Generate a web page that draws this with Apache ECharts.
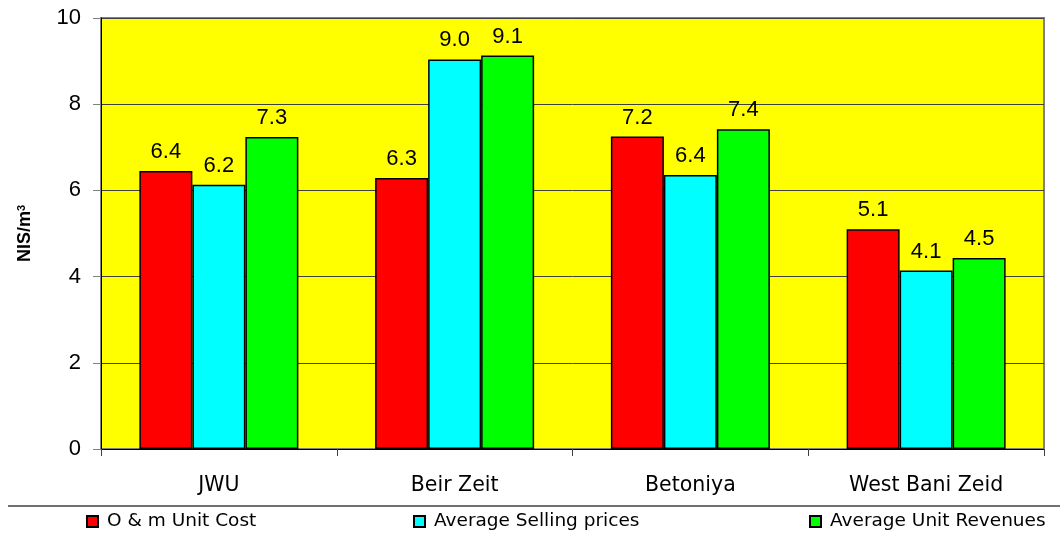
<!DOCTYPE html>
<html>
<head>
<meta charset="utf-8">
<script src="https://cdn.jsdelivr.net/npm/echarts@6/dist/echarts.min.js"></script>
<style>
  html, body { margin: 0; padding: 0; background: #fff; }
  #chart { width: 1061px; height: 540px; }
</style>
</head>
<body>
<div id="chart"></div>
<script>
// data
const sites = ['JWU', 'Beir Zeit', 'Betoniya', 'West Bani Zeid'];
const seriesNames = ['O & m Unit Cost', 'Average Selling prices', 'Average Unit Revenues'];

const omCost = [6.45, 6.29, 7.25, 5.1];
const sellPrice = [6.13, 9.04, 6.36, 4.14];
const unitRevenue = [7.24, 9.13, 7.42, 4.43];

// printed labels (as shown on the chart)
const omCostLabels = ['6.4', '6.3', '7.2', '5.1'];
const sellPriceLabels = ['6.2', '9.0', '6.4', '4.1'];
const unitRevenueLabels = ['7.3', '9.1', '7.4', '4.5'];

const yTicks = { min: 0, max: 10, interval: 2 };

const colors = ['#ff0000', '#00ffff', '#00ff00'];

const chart = echarts.init(document.getElementById('chart'));

const makeSeries = (name, values, labels, color) => ({
  name: name,
  type: 'bar',
  data: values,
  barWidth: 53,
  barGap: '0%',
  itemStyle: { color: color, borderColor: '#000', borderWidth: 1.5 },
  label: {
    show: true,
    position: 'top',
    distance: 8,
    color: '#000',
    fontFamily: 'Liberation Sans',
    fontSize: 22,
    formatter: (p) => labels[p.dataIndex],
  },
});

const legendItem = (name, left) => ({
  data: [name],
  left: left,
  top: 512,
  itemWidth: 11,
  itemHeight: 11,
  icon: 'rect',
  padding: 0,
  textStyle: {
    fontFamily: 'DejaVu Sans',
    fontSize: 18.5,
    color: '#000',
    padding: [0, 0, 0, 4],
  },
});

chart.setOption({
  animation: false,
  grid: {
    left: 101,
    right: 17,
    top: 18,
    bottom: 91,
    show: true,
    backgroundColor: '#ffff00',
    borderColor: '#808080',
    borderWidth: 2,
  },
  legend: [
    legendItem(seriesNames[0], 86),
    legendItem(seriesNames[1], 413),
    legendItem(seriesNames[2], 809),
  ],
  xAxis: {
    type: 'category',
    data: sites,
    axisLine: { lineStyle: { color: '#000', width: 1 } },
    axisTick: { show: true, length: 7, lineStyle: { color: '#404040' } },
    axisLabel: {
      margin: 26,
      color: '#000',
      fontFamily: 'DejaVu Sans',
      fontSize: 20.5,
    },
  },
  yAxis: {
    type: 'value',
    min: yTicks.min,
    max: yTicks.max,
    interval: yTicks.interval,
    name: 'NIS/m{sup|3}',
    nameLocation: 'middle',
    nameGap: 66,
    nameTextStyle: {
      fontFamily: 'Liberation Sans',
      fontWeight: 'bold',
      fontSize: 18,
      color: '#000',
      rich: {
        sup: {
          fontFamily: 'Liberation Sans',
          fontWeight: 'bold',
          fontSize: 11,
          verticalAlign: 'top',
          padding: [0, 0, 8, 0],
          color: '#000',
        },
      },
    },
    axisLine: { show: true, lineStyle: { color: '#000', width: 1 } },
    axisTick: { show: true, length: 8, lineStyle: { color: '#808080' } },
    splitLine: { lineStyle: { color: '#404040', width: 1 } },
    axisLabel: {
      margin: 20,
      color: '#000',
      fontFamily: 'Liberation Sans',
      fontSize: 22,
    },
  },
  graphic: [
    {
      type: 'line',
      shape: { x1: 8, y1: 506, x2: 1060, y2: 506 },
      style: { stroke: '#404040', lineWidth: 1.5 },
    },
  ],
  series: [
    makeSeries(seriesNames[0], omCost, omCostLabels, colors[0]),
    makeSeries(seriesNames[1], sellPrice, sellPriceLabels, colors[1]),
    makeSeries(seriesNames[2], unitRevenue, unitRevenueLabels, colors[2]),
  ],
});
</script>
</body>
</html>
